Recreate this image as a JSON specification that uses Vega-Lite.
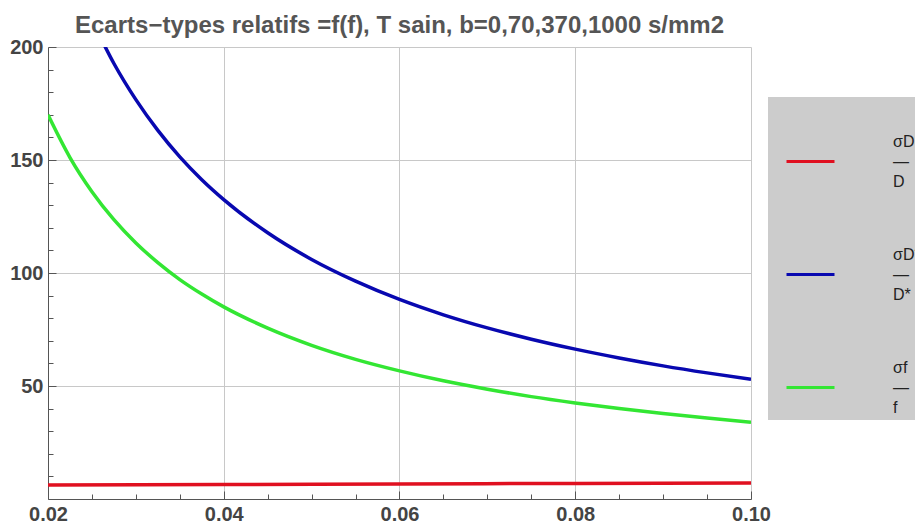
{
  "$schema": "https://vega.github.io/schema/vega-lite/v6.json",
  "width": 703,
  "height": 452,
  "autosize": "none",
  "padding": {"left": 48, "top": 47, "right": 164, "bottom": 27},
  "background": "white",
  "title": {
    "text": "Ecarts−types relatifs =f(f), T sain, b=0,70,370,1000 s/mm2",
    "font": "Liberation Sans",
    "fontSize": 24,
    "fontWeight": "bold",
    "color": "#555555",
    "anchor": "middle",
    "offset": -1
  },
  "config": {
    "view": {"stroke": null},
    "axis": {
      "labelFont": "Liberation Sans",
      "labelFontSize": 20,
      "labelFontWeight": "bold",
      "labelColor": "#444444",
      "domainColor": "#555555",
      "tickColor": "#555555",
      "gridColor": "#c8c8c8",
      "gridWidth": 1,
      "title": null
    }
  },
  "data": {
    "values": [
      {"f": 0.02, "v": 6.2, "s": "a"},
      {"f": 0.04, "v": 6.4, "s": "a"},
      {"f": 0.06, "v": 6.65, "s": "a"},
      {"f": 0.08, "v": 6.9, "s": "a"},
      {"f": 0.10, "v": 7.1, "s": "a"},
      {"f": 0.025, "v": 212, "s": "b"},
      {"f": 0.0275, "v": 192.7, "s": "b"},
      {"f": 0.03, "v": 176.7, "s": "b"},
      {"f": 0.0325, "v": 163.1, "s": "b"},
      {"f": 0.035, "v": 151.4, "s": "b"},
      {"f": 0.0375, "v": 141.3, "s": "b"},
      {"f": 0.04, "v": 132.5, "s": "b"},
      {"f": 0.045, "v": 117.8, "s": "b"},
      {"f": 0.05, "v": 106, "s": "b"},
      {"f": 0.055, "v": 96.4, "s": "b"},
      {"f": 0.06, "v": 88.3, "s": "b"},
      {"f": 0.065, "v": 81.5, "s": "b"},
      {"f": 0.07, "v": 75.7, "s": "b"},
      {"f": 0.075, "v": 70.7, "s": "b"},
      {"f": 0.08, "v": 66.3, "s": "b"},
      {"f": 0.085, "v": 62.4, "s": "b"},
      {"f": 0.09, "v": 58.9, "s": "b"},
      {"f": 0.095, "v": 55.8, "s": "b"},
      {"f": 0.10, "v": 53, "s": "b"},
      {"f": 0.02, "v": 170, "s": "c"},
      {"f": 0.0225, "v": 151.1, "s": "c"},
      {"f": 0.025, "v": 136, "s": "c"},
      {"f": 0.0275, "v": 123.6, "s": "c"},
      {"f": 0.03, "v": 113.3, "s": "c"},
      {"f": 0.0325, "v": 104.6, "s": "c"},
      {"f": 0.035, "v": 97.1, "s": "c"},
      {"f": 0.0375, "v": 90.7, "s": "c"},
      {"f": 0.04, "v": 85, "s": "c"},
      {"f": 0.045, "v": 75.6, "s": "c"},
      {"f": 0.05, "v": 68, "s": "c"},
      {"f": 0.055, "v": 61.8, "s": "c"},
      {"f": 0.06, "v": 56.7, "s": "c"},
      {"f": 0.065, "v": 52.3, "s": "c"},
      {"f": 0.07, "v": 48.6, "s": "c"},
      {"f": 0.075, "v": 45.3, "s": "c"},
      {"f": 0.08, "v": 42.5, "s": "c"},
      {"f": 0.085, "v": 40, "s": "c"},
      {"f": 0.09, "v": 37.8, "s": "c"},
      {"f": 0.095, "v": 35.8, "s": "c"},
      {"f": 0.10, "v": 34, "s": "c"}
    ]
  },
  "mark": {"type": "line", "strokeWidth": 3.5, "clip": true, "interpolate": "monotone"},
  "encoding": {
    "x": {
      "field": "f",
      "type": "quantitative",
      "scale": {"domain": [0.02, 0.10], "nice": false, "zero": false},
      "axis": {
        "values": [0.02, 0.025, 0.03, 0.035, 0.04, 0.045, 0.05, 0.055, 0.06, 0.065, 0.07, 0.075, 0.08, 0.085, 0.09, 0.095, 0.10],
        "format": ".2f",
        "labelExpr": "abs(datum.value*50 - round(datum.value*50)) < 0.001 ? datum.label : ''",
        "grid": true,
        "gridOpacity": {"condition": {"test": "abs(datum.value*50 - round(datum.value*50)) < 0.001 && datum.value > 0.03", "value": 1}, "value": 0},
        "tickSize": {"condition": {"test": "abs(datum.value*50 - round(datum.value*50)) < 0.001", "value": -8}, "value": -5},
        "labelPadding": 13,
        "labelFlush": false,
        "labelOverlap": false
      }
    },
    "y": {
      "field": "v",
      "type": "quantitative",
      "scale": {"domain": [0, 200], "nice": false},
      "axis": {
        "values": [10, 20, 30, 40, 50, 60, 70, 80, 90, 100, 110, 120, 130, 140, 150, 160, 170, 180, 190, 200],
        "labelExpr": "datum.value % 50 == 0 ? datum.label : ''",
        "grid": true,
        "gridOpacity": {"condition": {"test": "datum.value % 50 == 0", "value": 1}, "value": 0},
        "tickSize": {"condition": {"test": "datum.value % 50 == 0", "value": -8}, "value": -5},
        "labelPadding": 13,
        "labelFlush": false,
        "labelOverlap": false
      }
    },
    "color": {
      "field": "s",
      "type": "nominal",
      "scale": {"domain": ["a", "b", "c"], "range": ["#e01020", "#0808b0", "#33e633"]},
      "legend": {
        "title": " ",
        "titleFontSize": 10,
        "titlePadding": 25,
        "orient": "none",
        "legendX": 720,
        "legendY": 50,
        "fillColor": "#cccccc",
        "padding": 4,
        "symbolOffset": 13,
        "symbolType": "stroke",
        "symbolSize": 2304,
        "symbolStrokeWidth": 3,
        "labelOffset": 57,
        "rowPadding": 56,
        "labelFont": "Liberation Sans",
        "labelFontSize": 16,
        "labelColor": "#222222",
        "labelExpr": "datum.label == 'a' ? ['σD', '—', 'D'] : datum.label == 'b' ? ['σD*', '—', 'D*'] : ['σf', '—', 'f']",
        "encode": {"labels": {"update": {"dy": {"value": -20}, "lineHeight": {"value": 20}}}}
      }
    }
  }
}
